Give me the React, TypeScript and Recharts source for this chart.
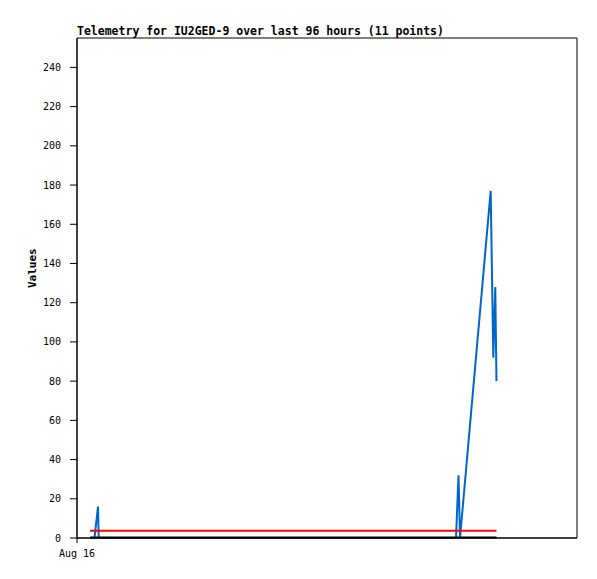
import React from 'react';
import { LineChart, Line, XAxis, YAxis, ReferenceArea } from 'recharts';

// hours since Aug 16 00:00
const hours = [2.5, 3.36, 4.03, 4.17, 72.77, 73.25, 73.54, 79.43, 79.93, 80.31, 80.54];
const channelBlue = [0, 0, 16, 0, 0, 32, 0, 177, 92, 128, 80];
const channelRed = [3.7, 3.7, 3.7, 3.7, 3.7, 3.7, 3.7, 3.7, 3.7, 3.7, 3.7];
const channelBlack = [0.3, 0.3, 0.3, 0.3, 0.3, 0.3, 0.3, 0.3, 0.3, 0.3, 0.3];
const yTicks = [0, 20, 40, 60, 80, 100, 120, 140, 160, 180, 200, 220, 240];
const xTicks = [0];
const xTickLabels = ['Aug 16'];

const data = hours.map((h, i) => ({
    t: h,
    blue: channelBlue[i],
    red: channelRed[i],
    black: channelBlack[i],
}));

const FONT = '"DejaVu Sans Mono", monospace';

export default function App() {
    return (
        <div style={{ position: 'absolute', left: 0, top: 0, width: 597, height: 579, background: '#fff' }}>
            <div
                style={{
                    position: 'absolute',
                    left: 77,
                    top: 24,
                    fontFamily: FONT,
                    fontWeight: 'bold',
                    fontSize: 11.5,
                    lineHeight: '14px',
                    color: '#000',
                    whiteSpace: 'nowrap',
                }}
            >
                Telemetry for IU2GED-9 over last 96 hours (11 points)
            </div>
            <LineChart width={597} height={579} data={data} margin={{ top: 38, right: 20, bottom: 11, left: 17 }}>
                <ReferenceArea x1={0} x2={96} y1={0} y2={255} fill="none" stroke="#000" strokeWidth={1} ifOverflow="visible" />
                <XAxis
                    dataKey="t"
                    type="number"
                    domain={[0, 96]}
                    ticks={xTicks}
                    tickFormatter={(v) => xTickLabels[xTicks.indexOf(v)] ?? ''}
                    height={30}
                    tickSize={5}
                    tickMargin={7}
                    stroke="#000"
                    tick={{ fill: '#000', fontSize: 10, fontFamily: FONT }}
                />
                <YAxis
                    type="number"
                    domain={[0, 255]}
                    ticks={yTicks}
                    width={60}
                    tickSize={7}
                    tickMargin={9}
                    stroke="#000"
                    tick={{ fill: '#000', fontSize: 10, fontFamily: FONT }}
                    label={{ value: 'Values', angle: -90, position: 'insideLeft', offset: 15, style: { fontFamily: FONT, fontWeight: 'bold', fontSize: 11, fill: '#000' } }}
                />
                <Line type="linear" dataKey="blue" stroke="#0066cc" strokeWidth={2} dot={false} isAnimationActive={false} />
                <Line type="linear" dataKey="red" stroke="#ff0000" strokeWidth={2} dot={false} isAnimationActive={false} />
                <Line type="linear" dataKey="black" stroke="#000000" strokeWidth={2} dot={false} isAnimationActive={false} />
            </LineChart>
        </div>
    );
}
